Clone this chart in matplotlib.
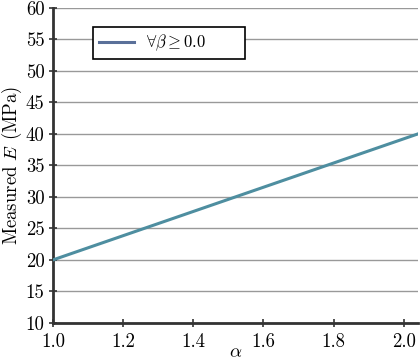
import matplotlib
matplotlib.use('Agg')
import matplotlib.pyplot as plt
from matplotlib.lines import Line2D

# data
alpha = [1.0, 2.04]
measured_e = [20.0, 40.0]
y_ticks = [10, 15, 20, 25, 30, 35, 40, 45, 50, 55, 60]
x_ticks = [1.0, 1.2, 1.4, 1.6, 1.8, 2.0]
legend_label = r'$\forall\beta \geq 0.0$' + '       '

plt.rcParams['font.family'] = 'cmr10'
plt.rcParams['mathtext.fontset'] = 'cm'
plt.rcParams['axes.formatter.use_mathtext'] = True
plt.rcParams['font.size'] = 13.5

fig = plt.figure(figsize=(4.2, 3.6), dpi=100)
ax = fig.add_axes([0.126, 0.103, 0.869, 0.875])

ax.plot(alpha, measured_e, color='#4e8ea0', lw=2.2, zorder=3)

# horizontal grid only
ax.yaxis.grid(True, color='#999999', lw=1.0)
ax.set_axisbelow(True)

ax.set_xlim(1.0, 2.04)
ax.set_ylim(10, 60)
ax.set_yticks(y_ticks)
ax.set_xticks(x_ticks)
ax.set_xticklabels([f'{v:.1f}' for v in x_ticks])
ax.set_yticklabels([str(v) for v in y_ticks])

for side in ['top', 'right']:
    ax.spines[side].set_visible(False)
for side in ['left', 'bottom']:
    ax.spines[side].set_linewidth(2.0)
    ax.spines[side].set_color('#333333')
ax.tick_params(direction='inout', length=6, width=1.2, color='#333333')
ax.tick_params(axis='x', pad=4)
ax.tick_params(axis='y', pad=3)

ax.set_xlabel(r'$\alpha$', labelpad=-5)
ax.set_ylabel(r'Measured $E$ (MPa)', labelpad=1)

handle = Line2D([], [], color='#5a7099', lw=2.2)
leg = ax.legend([handle], [legend_label], loc='upper left',
                bbox_to_anchor=(0.11, 0.94), borderaxespad=0,
                fancybox=False, edgecolor='black', framealpha=1.0,
                handlelength=2.1, borderpad=0.35, handletextpad=0.7,
                fontsize=12)
leg.get_frame().set_linewidth(1.2)

fig.savefig('out.png', dpi=100)
